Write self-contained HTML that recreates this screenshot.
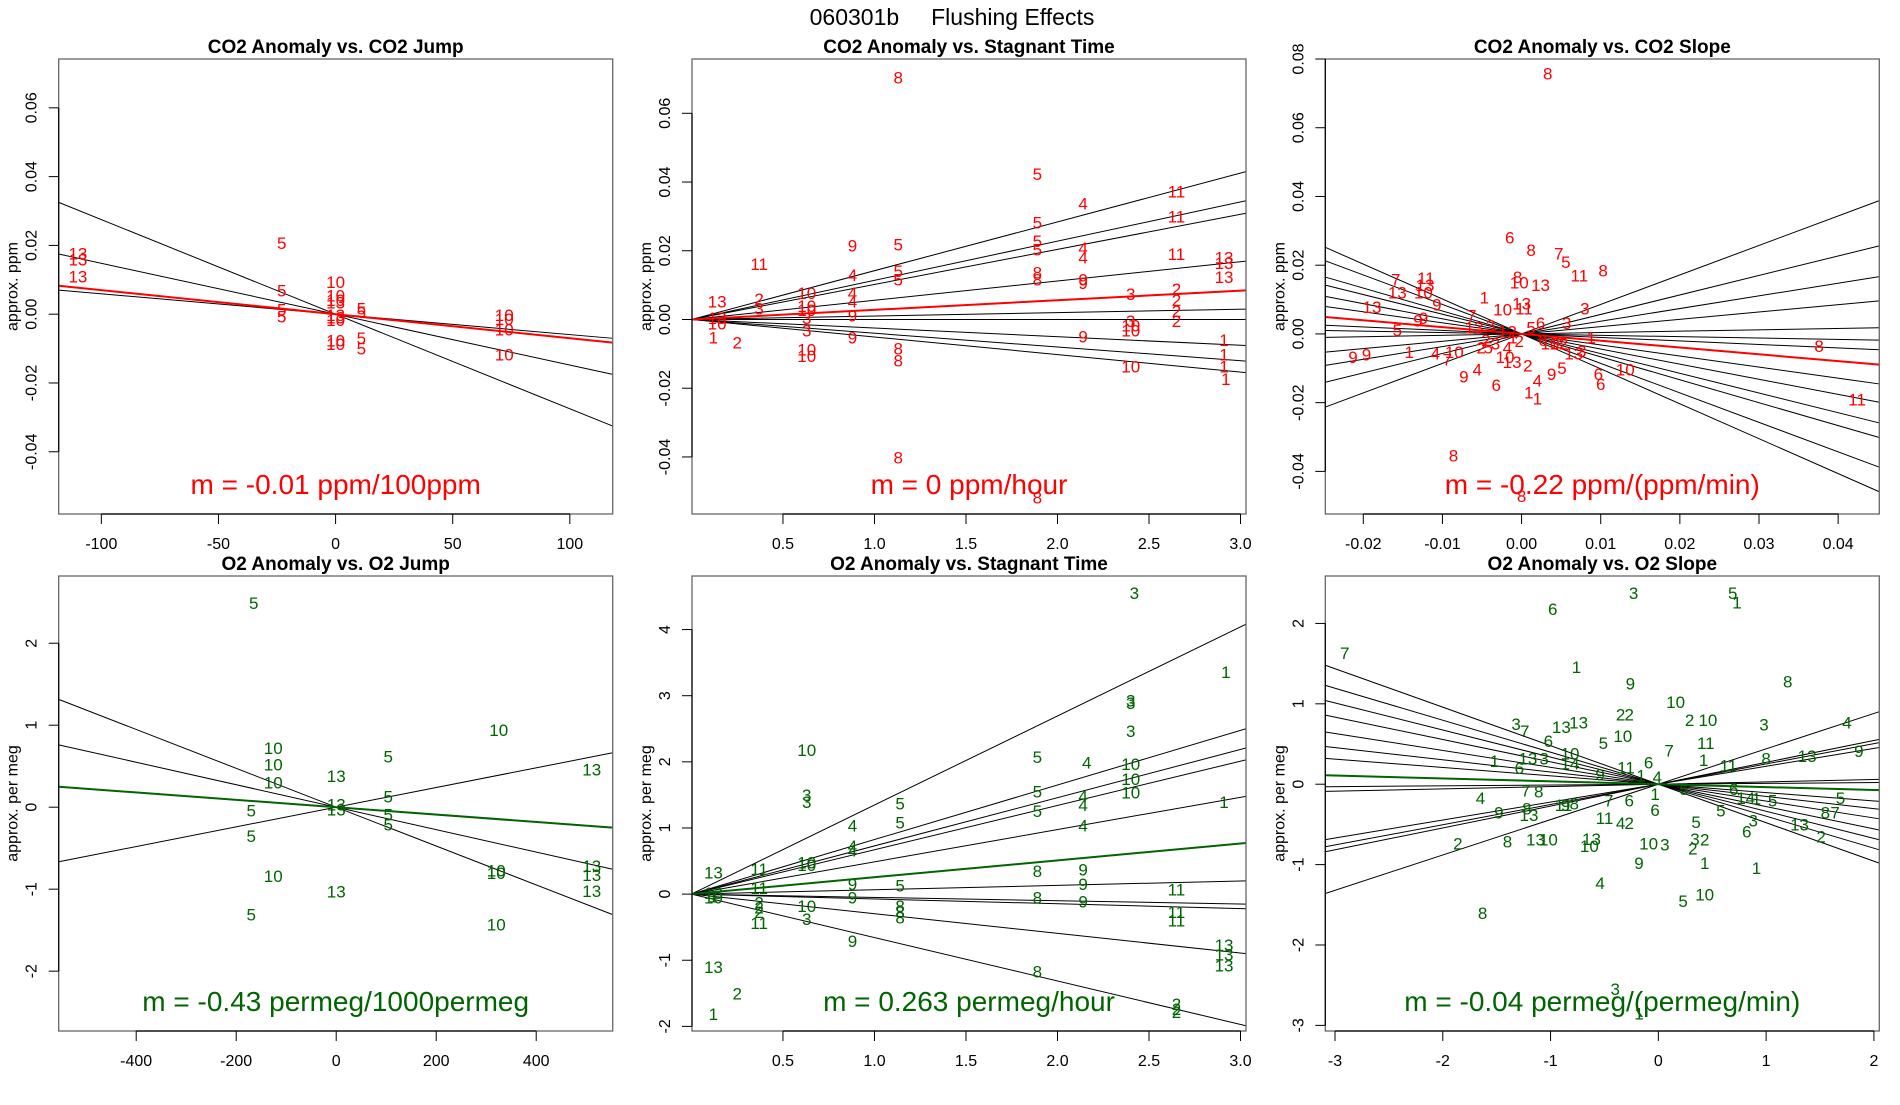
<!DOCTYPE html>
<html><head><meta charset="utf-8"><style>
html,body{margin:0;padding:0;background:#fff;}
svg text{font-family:"Liberation Sans",sans-serif;}
</style></head><body>
<svg id="fig" width="1900" height="1100" viewBox="0 0 1900 1100" xmlns="http://www.w3.org/2000/svg">
<rect x="0" y="0" width="1900" height="1100" fill="#fff"/>
<text x="952" y="25" font-size="23" text-anchor="middle" xml:space="preserve">060301b     Flushing Effects</text>
</svg>
<script>
// ---- Panel 1: CO2 Anomaly vs CO2 Jump ----
const p1Lbl=['13','13','13','5','5','5','5','10','10','10','13','13','10','10','10','5','5','5','5','10','10','10','10','13'];
const p1X=[-110,-110,-110,-23,-23,-23,-23,0,0,0,0,0,0,0,0,11,11,11,11,72,72,72,72,0];
const p1Y=[0.0176,0.0159,0.011,0.0207,0.0069,0.0014,-0.0007,0.0093,0.0055,0.0041,0.0034,-0.001,-0.0017,-0.0076,-0.0086,0.0017,0.0007,-0.0069,-0.01,-0.0003,-0.0014,-0.0045,-0.0117,-0.0003];
const p1Slopes=[-0.000275,-0.000148,-0.0000593];
const p1Fit=-0.0000699;
const p1XT=[-100,-50,0,50,100];
const p1YT=['-0.04','-0.02','0.00','0.02','0.04','0.06'];

// ---- Panel 2: CO2 Anomaly vs Stagnant Time ----
const p2Lbl=['8','5','4','11','11','5','5','5','4','4','9','5','11','11','13','13','13','4','5','5','8','8','9','9','3','2','2','2','2','4','4','10','10','10','13','2','3','13','10','3','3','9','9','1','2','10','10','8','8','9','10','10','10','3','1','1','1','1','8','8'];
const p2X=[1.13,1.89,2.14,2.65,2.65,1.89,1.89,1.89,2.14,2.14,0.88,1.13,0.37,2.65,2.91,2.91,2.91,0.88,1.13,1.13,1.89,1.89,2.14,2.14,2.40,2.65,2.65,2.65,2.65,0.88,0.88,0.63,0.63,0.63,0.14,0.37,0.37,0.14,0.14,0.63,0.63,0.88,0.88,0.12,0.25,0.63,0.63,1.13,1.13,2.14,2.40,2.40,2.40,2.40,2.91,2.91,2.91,2.92,1.13,1.89];
const p2Y=[0.0704,0.0423,0.0338,0.0373,0.0299,0.0282,0.0229,0.0204,0.0208,0.018,0.0215,0.0218,0.0162,0.019,0.018,0.0165,0.0123,0.013,0.0141,0.0116,0.0137,0.0116,0.0116,0.0106,0.0074,0.0088,0.0056,0.0025,-0.0004,0.0077,0.0053,0.0077,0.0039,0.0028,0.0053,0.006,0.0032,0.0004,-0.0011,0.0004,-0.0032,0.0011,-0.0053,-0.0053,-0.0067,-0.0088,-0.0106,-0.0085,-0.012,-0.0049,-0.0018,-0.0032,-0.0137,-0.0004,-0.006,-0.0102,-0.0137,-0.0173,-0.0401,-0.0518];
const p2Slopes=[0.0142,0.0114,0.0102,0.0056,0.001,0.0,-0.0025,-0.004,-0.0051];
const p2Fit=0.0028;
const p2XT=['0.5','1.0','1.5','2.0','2.5','3.0'];
const p2YT=['-0.04','-0.02','0.00','0.02','0.04','0.06'];

// ---- Panel 3: CO2 Anomaly vs CO2 Slope ----
const p3Lbl=['8','6','8','7','5','8','11','13','7','11','13','10','13','1','9','8','10','13','11','10','13','7','9','9','5','3','3','6','1','9','9','1','4','7','10','9','4','6','2','5','10','13','2','1','1','4','9','5','6','10','3','13','2','6','8','11','8','8','12','1','2','3','4','5','6','10','12','13','2','3'];
const p3X=[0.0033,-0.0015,0.0012,0.0047,0.0056,0.0103,0.0073,0.0024,-0.0159,-0.0121,-0.0122,-0.0124,-0.0157,-0.0047,-0.0107,-0.0005,-0.0003,0.0,0.0003,-0.0024,-0.0189,-0.0063,-0.0131,-0.0124,-0.0157,0.008,0.0057,0.0024,0.0088,-0.0213,-0.0196,-0.0142,-0.0109,-0.0094,-0.0085,-0.0073,-0.0056,-0.0032,-0.0045,-0.0042,-0.0021,-0.0012,0.0008,0.0009,0.002,0.002,0.0038,0.0051,0.01,0.0131,0.0076,0.0066,0.0048,0.0097,0.0376,0.0424,-0.0086,0.0,-0.0018,-0.0011,-0.0003,-0.0033,-0.0018,0.0012,0.0027,0.0036,0.0047,-0.006,-0.0051,-0.0039];
const p3Y=[0.0758,0.028,0.0244,0.0234,0.0209,0.0184,0.017,0.0142,0.0159,0.0163,0.0142,0.012,0.012,0.0106,0.0085,0.0166,0.0149,0.0088,0.0074,0.0071,0.0078,0.0053,0.0039,0.0046,0.0011,0.0074,0.0032,0.0032,-0.0011,-0.0067,-0.006,-0.0053,-0.0057,-0.0074,-0.0053,-0.0124,-0.0103,-0.0149,-0.0018,-0.0039,-0.0067,-0.0081,-0.0092,-0.017,-0.0188,-0.0135,-0.0117,-0.0099,-0.0145,-0.0103,-0.005,-0.0057,-0.0025,-0.0117,-0.0035,-0.0191,-0.0354,-0.0471,0.0007,-0.0011,-0.0021,-0.0028,-0.0039,0.0018,-0.0018,-0.0028,-0.0028,0.0018,-0.0039,0.0025];
const p3Slopes=[0.858,0.567,0.369,0.213,0.04,-0.04,-0.102,-0.322,-0.44,-0.573,-0.667,-0.858,-1.016];
const p3Fit=-0.198;
const p3XT=['-0.02','-0.01','0.00','0.01','0.02','0.03','0.04'];
const p3YT=['-0.04','-0.02','0.00','0.02','0.04','0.06','0.08'];

// ---- Panel 4: O2 Anomaly vs O2 Jump ----
const p4Lbl=['5','10','10','10','5','5','10','5','13','13','13','13','5','5','5','5','10','13','13','13','13','10','10','10'];
const p4X=[-165,-126,-126,-126,-170,-170,-126,-170,0,0,0,0,104,104,104,104,325,511,511,511,511,320,320,320];
const p4Y=[2.49,0.72,0.52,0.3,-0.04,-0.35,-0.84,-1.31,0.38,0.03,-0.03,-1.03,0.62,0.13,-0.09,-0.21,0.94,0.46,-0.72,-0.83,-1.02,-0.77,-0.8,-1.43];
const p4Slopes=[-0.00237,-0.00137,0.0012];
const p4Fit=-0.00045;
const p4XT=[-400,-200,0,200,400];
const p4YT=['-2','-1','0','1','2'];

// ---- Panel 5: O2 Anomaly vs Stagnant Time ----
const p5Lbl=['3','1','3','3','3','10','5','4','10','10','10','5','5','4','4','3','3','4','5','5','1','4','4','4','10','10','13','11','8','9','9','5','11','13','1','10','9','11','9','9','8','8','8','8','2','2','2','11','10','3','11','11','13','13','13','9','8','13','2','1','2','2','2'];
const p5X=[2.42,2.92,2.40,2.40,2.40,0.63,1.89,2.16,2.40,2.40,2.40,1.89,1.89,2.14,2.14,0.63,0.63,0.88,1.14,1.14,2.91,2.14,0.88,0.88,0.63,0.63,0.12,0.37,1.89,2.14,0.88,1.14,0.37,0.12,0.12,0.12,2.14,2.65,0.88,2.14,1.89,1.14,1.14,1.14,0.37,0.37,0.37,0.37,0.63,0.63,2.65,2.65,2.91,2.91,2.91,0.88,1.89,0.12,0.25,0.12,2.65,2.65,2.65];
const p5Y=[4.55,3.36,2.93,2.89,2.47,2.18,2.07,1.99,1.97,1.74,1.54,1.55,1.26,1.48,1.35,1.5,1.39,1.04,1.37,1.08,1.39,1.04,0.73,0.66,0.48,0.44,0.33,0.38,0.35,0.37,0.15,0.13,0.09,0.02,-0.04,-0.05,0.15,0.07,-0.05,-0.11,-0.05,-0.18,-0.27,-0.35,-0.13,-0.2,-0.27,-0.44,-0.18,-0.38,-0.27,-0.4,-0.77,-0.91,-1.08,-0.71,-1.17,-1.1,-1.5,-1.81,-1.66,-1.74,-1.78];
const p5Slopes=[1.347,0.825,0.729,0.67,0.488,0.066,-0.05,-0.073,-0.297,-0.657];
const p5Fit=0.255;
const p5XT=['0.5','1.0','1.5','2.0','2.5','3.0'];
const p5YT=['-2','-1','0','1','2','3','4'];

// ---- Panel 6: O2 Anomaly vs O2 Slope ----
const p6Lbl=['3','5','1','6','7','1','8','9','10','2','2','2','10','3','4','3','7','13','13','6','5','10','7','11','1','9','8','13','1','6','13','3','10','14','9','11','6','1','4','11','4','9','8','13','7','8','11','8','9','7','6','1','5','6','14','5','5','8','7','6','5','5','1','11','4','2','13','10','13','10','3','2','2','3','6','13','2','8','2','10','3','9','1','1','4','8','5','10','3','1'];
const p6X=[-0.23,0.69,0.73,-0.98,-2.91,-0.76,1.2,-0.26,0.16,-0.35,-0.27,0.29,0.46,0.98,1.75,-1.32,-1.24,-0.9,-0.74,-1.02,-0.51,-0.33,0.1,0.44,0.42,1.86,1.0,1.38,-1.52,-1.29,-1.21,-1.06,-0.82,-0.82,-0.54,-0.3,-0.09,-0.16,-0.01,0.65,-1.65,-1.48,-1.22,-1.2,-1.23,-1.11,-0.88,-0.78,-0.86,-0.46,-0.27,-0.03,0.24,0.7,0.81,1.06,1.69,1.55,1.64,-0.03,0.35,0.58,0.91,-0.5,-0.35,-0.27,-0.62,-0.64,-1.14,-1.02,0.34,0.43,0.32,0.88,0.82,1.31,1.51,-1.4,-1.86,-0.09,0.06,-0.18,0.43,0.91,-0.54,-1.63,0.23,0.43,-0.4,-0.18];
const p6Y=[2.38,2.38,2.26,2.18,1.63,1.46,1.28,1.25,1.02,0.87,0.87,0.8,0.8,0.74,0.77,0.75,0.66,0.71,0.77,0.54,0.51,0.6,0.42,0.51,0.3,0.41,0.32,0.35,0.29,0.2,0.32,0.32,0.38,0.26,0.12,0.21,0.27,0.11,0.09,0.23,-0.17,-0.35,-0.3,-0.38,-0.08,-0.09,-0.26,-0.24,-0.26,-0.2,-0.2,-0.12,-0.06,-0.06,-0.17,-0.2,-0.17,-0.35,-0.35,-0.32,-0.47,-0.33,-0.18,-0.42,-0.48,-0.48,-0.68,-0.77,-0.69,-0.69,-0.68,-0.69,-0.8,-0.45,-0.59,-0.5,-0.65,-0.71,-0.74,-0.74,-0.75,-0.98,-0.98,-1.04,-1.23,-1.6,-1.45,-1.37,-2.55,-2.85];
const p6Slopes=[-0.479,-0.398,-0.337,-0.278,-0.21,-0.152,-0.104,0.01,0.029,0.223,0.252,0.272,0.44];
const p6Fit=-0.036;
const p6XT=[-3,-2,-1,0,1,2];
const p6YT=['-3','-2','-1','0','1','2'];

const NS='http://www.w3.org/2000/svg';
const svg=document.getElementById('fig');
function mk(tag,attrs,parent){const e=document.createElementNS(NS,tag);for(const k in attrs)e.setAttribute(k,attrs[k]);(parent||svg).appendChild(e);return e;}

const panels=[
 {id:'co2-jump',title:'CO2 Anomaly vs. CO2 Jump',yl:'approx. ppm',L:58.7,T:59,xlim:[-118.2,118.3],ylim:[-0.0581,0.0742],lbl:p1Lbl,xs:p1X,ys:p1Y,sl:p1Slopes,fit:p1Fit,xt:p1XT,yt:p1YT,col:'#ff0000',m:'m = -0.01 ppm/100ppm'},
 {id:'co2-stagnant',title:'CO2 Anomaly vs. Stagnant Time',yl:'approx. ppm',L:692,T:59,xlim:[0.003,3.03],ylim:[-0.0566,0.0758],lbl:p2Lbl,xs:p2X,ys:p2Y,sl:p2Slopes,fit:p2Fit,xt:p2XT,yt:p2YT,col:'#ff0000',m:'m = 0 ppm/hour'},
 {id:'co2-slope',title:'CO2 Anomaly vs. CO2 Slope',yl:'approx. ppm',L:1325.3,T:59,xlim:[-0.0248,0.0452],ylim:[-0.0524,0.08],lbl:p3Lbl,xs:p3X,ys:p3Y,sl:p3Slopes,fit:p3Fit,xt:p3XT,yt:p3YT,col:'#ff0000',m:'m = -0.22 ppm/(ppm/min)'},
 {id:'o2-jump',title:'O2 Anomaly vs. O2 Jump',yl:'approx. per meg',L:58.7,T:576,xlim:[-555,553],ylim:[-2.73,2.82],lbl:p4Lbl,xs:p4X,ys:p4Y,sl:p4Slopes,fit:p4Fit,xt:p4XT,yt:p4YT,col:'#006400',m:'m = -0.43 permeg/1000permeg'},
 {id:'o2-stagnant',title:'O2 Anomaly vs. Stagnant Time',yl:'approx. per meg',L:692,T:576,xlim:[0.003,3.03],ylim:[-2.07,4.81],lbl:p5Lbl,xs:p5X,ys:p5Y,sl:p5Slopes,fit:p5Fit,xt:p5XT,yt:p5YT,col:'#006400',m:'m = 0.263 permeg/hour'},
 {id:'o2-slope',title:'O2 Anomaly vs. O2 Slope',yl:'approx. per meg',L:1325.3,T:576,xlim:[-3.09,2.05],ylim:[-3.07,2.59],lbl:p6Lbl,xs:p6X,ys:p6Y,sl:p6Slopes,fit:p6Fit,xt:p6XT,yt:p6YT,col:'#006400',m:'m = -0.04 permeg/(permeg/min)'}
];
const W=554,H=455;
panels.forEach((p,pi)=>{
  const g=mk('g',{});
  
  
  const sx=v=>p.L+(v-p.xlim[0])/(p.xlim[1]-p.xlim[0])*W;
  const sy=v=>p.T+H-(v-p.ylim[0])/(p.ylim[1]-p.ylim[0])*H;
  const cx=p.L+W/2;
  const t=mk('text',{x:cx,y:p.T-6,'font-size':19,'font-weight':'bold','text-anchor':'middle'},g);
  t.textContent=p.title;
  
  
  const clip=mk('clipPath',{id:'clip'+pi},g);
  mk('rect',{x:p.L,y:p.T,width:W,height:H},clip);
  const plot=mk('g',{'clip-path':'url(#clip'+pi+')'},g);
  p.sl.forEach(s=>{
    const ln=mk('line',{x1:sx(p.xlim[0]),y1:sy(s*p.xlim[0]),x2:sx(p.xlim[1]),y2:sy(s*p.xlim[1]),stroke:'#000','stroke-width':1},plot);
    
    
  });
  const fl=mk('line',{x1:sx(p.xlim[0]),y1:sy(p.fit*p.xlim[0]),x2:sx(p.xlim[1]),y2:sy(p.fit*p.xlim[1]),stroke:p.col,'stroke-width':2},plot);
  
  
  p.lbl.forEach((l,i)=>{
    const tx=mk('text',{x:sx(p.xs[i]),y:sy(p.ys[i])+6,'font-size':17,fill:p.col,'text-anchor':'middle'},plot);
    tx.textContent=l;
    
    
  });
  const mt=mk('text',{x:cx,y:p.T+H-20,'font-size':28,fill:p.col,'text-anchor':'middle'},g);
  mt.textContent=p.m;
  
  
  const fr=mk('rect',{x:p.L,y:p.T,width:W,height:H,fill:'none',stroke:'#666','stroke-width':1.3},g);
  
  
  const xv=p.xt.map(Number);
  const xa=mk('line',{x1:sx(xv[0]),y1:p.T+H,x2:sx(xv[xv.length-1]),y2:p.T+H,stroke:'#000','stroke-width':1.2},g);
  
  
  p.xt.forEach(v=>{
    const X=sx(Number(v));
    mk('line',{x1:X,y1:p.T+H,x2:X,y2:p.T+H+10,stroke:'#000','stroke-width':1},g);
    const tl=mk('text',{x:X,y:p.T+H+35,'font-size':16,'text-anchor':'middle'},g);
    tl.textContent=String(v);
    
    
  });
  const yv=p.yt.map(Number);
  const ya=mk('line',{x1:p.L,y1:sy(yv[0]),x2:p.L,y2:sy(yv[yv.length-1]),stroke:'#000','stroke-width':1.2},g);
  
  
  p.yt.forEach(v=>{
    const Y=sy(Number(v));
    mk('line',{x1:p.L-10,y1:Y,x2:p.L,y2:Y,stroke:'#000','stroke-width':1},g);
    const tl=mk('text',{x:p.L-22,y:Y,'font-size':16,'text-anchor':'middle',transform:'rotate(-90 '+(p.L-22)+' '+Y+')'},g);
    tl.textContent=v;
    
    
  });
  const yt=mk('text',{x:p.L-41,y:p.T+H/2,'font-size':16,'text-anchor':'middle',transform:'rotate(-90 '+(p.L-41)+' '+(p.T+H/2)+')'},g);
  yt.textContent=p.yl;
  
  
});
</script>
</body></html>
